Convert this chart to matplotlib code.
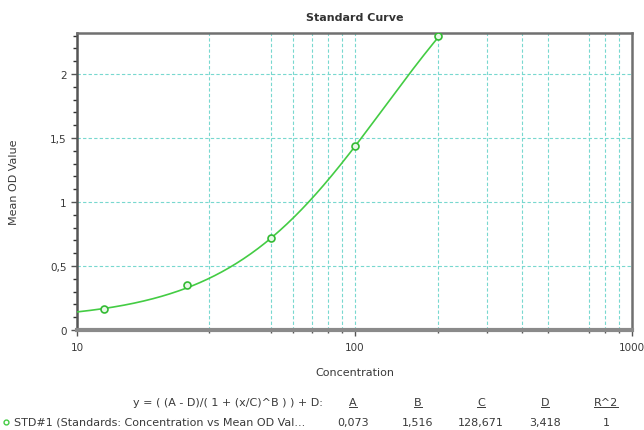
import numpy as np
import matplotlib
matplotlib.use("Agg")
import matplotlib.pyplot as plt
from matplotlib.lines import Line2D

plt.rcParams['font.family'] = ['DejaVu Sans']

# ---- data ----
concentration = [12.5, 25, 50, 100, 200]
mean_od = [0.165, 0.35, 0.72, 1.44, 2.30]
fit_A, fit_B, fit_C, fit_D = 0.073, 1.516, 128.671, 3.418
param_names = ['A', 'B', 'C', 'D', 'R^2']
param_values = ['0,073', '1,516', '128,671', '3,418', '1']
series_label = 'STD#1 (Standards: Concentration vs Mean OD Val...'
formula_text = 'y = ( (A - D)/( 1 + (x/C)^B ) ) + D:'
x_major = [10, 100, 1000]
x_major_labels = ['10', '100', '1000']
x_grid_minor = [30, 50, 60, 70, 80, 90, 200, 300, 400, 500, 700, 800, 900]
y_major = [0, 0.5, 1, 1.5, 2]
y_major_labels = ['0', '0,5', '1', '1,5', '2']

W, H = 644, 431
fig = plt.figure(figsize=(W / 100, H / 100), dpi=100)
L, R, T, B = 77, 632, 34, 331
ax = fig.add_axes([L / W, 1 - B / H, (R - L) / W, (B - T) / H])

txt = '#3a3a3a'
grid_c = '#78d8cf'
green = '#44cc44'

# fitted 4PL curve from the displayed parameters
xc = np.logspace(1, np.log10(max(concentration)), 300)
yc = (fit_A - fit_D) / (1 + (xc / fit_C) ** fit_B) + fit_D
ax.plot(xc, yc, color=green, lw=1.2, zorder=3)
ax.plot(concentration, mean_od, linestyle='none', marker='o', ms=5,
        mfc='#e8f8e8', mec='#33bb33', mew=1.2, zorder=4)

ax.set_xscale('log')
ax.set_xlim(10, 1000)
ax.set_ylim(0, 2.32)

ax.set_xticks(x_major)
ax.set_xticklabels(x_major_labels)
ax.set_xticks(x_grid_minor, minor=True)
ax.set_xticklabels([], minor=True)
ax.set_yticks(y_major)
ax.set_yticklabels(y_major_labels)
ax.set_yticks(np.arange(0.1, 2.31, 0.1), minor=True)

ax.grid(True, which='both', axis='x', color=grid_c, linestyle=(0, (3, 2)), lw=0.8)
ax.grid(True, which='major', axis='y', color=grid_c, linestyle=(0, (3, 2)), lw=0.8)
ax.set_axisbelow(True)

ax.tick_params(axis='both', which='major', labelsize=7.5, colors='#555555',
               labelcolor=txt, length=4, width=1)
ax.tick_params(axis='y', which='minor', length=3, width=1, colors='#333333')
ax.tick_params(axis='x', which='minor', length=2, width=1, colors='#555555')
ax.tick_params(axis='x', which='major', pad=5)

for s in ['top', 'right']:
    ax.spines[s].set_color('#707070')
    ax.spines[s].set_linewidth(1.8)
ax.spines['left'].set_color('#555555')
ax.spines['left'].set_linewidth(1.8)
ax.spines['bottom'].set_color('#8a8a8a')
ax.spines['bottom'].set_linewidth(3)

def px(x, y):
    return x / W, 1 - y / H

fig.text(*px((L + R) / 2, 18), 'Standard Curve', ha='center', va='center',
         fontsize=8, fontweight='bold', color='#333333')
fig.text(*px(14, (T + B) / 2), 'Mean OD Value', ha='center', va='center',
         rotation=90, fontsize=8, color=txt)
fig.text(*px((L + R) / 2, 373), 'Concentration', ha='center', va='center',
         fontsize=8, color=txt)

# fit table
row1, row2 = 403, 423
fig.text(*px(323, row1), formula_text, ha='right', va='center', fontsize=8, color=txt)
col_x = [353, 418, 481, 545, 606]
headers = []
for cx, name, val in zip(col_x, param_names, param_values):
    headers.append(fig.text(*px(cx, row1), name, ha='center', va='center',
                            fontsize=8, color=txt))
    fig.text(*px(cx, row2), val, ha='center', va='center', fontsize=8, color=txt)

fig.add_artist(Line2D([6 / W], [1 - row2 / H], transform=fig.transFigure,
                      marker='o', ms=3.5, mfc='white', mec=green, mew=1, linestyle='none'))
fig.text(*px(14, row2), series_label, ha='left', va='center', fontsize=8, color=txt)

# underline the parameter headers
fig.canvas.draw()
renderer = fig.canvas.get_renderer()
for t in headers:
    bb = t.get_window_extent(renderer)
    yline = bb.y0 + 0.5
    fig.add_artist(Line2D([bb.x0 / W, bb.x1 / W], [yline / H, yline / H],
                          transform=fig.transFigure, color=txt, lw=0.7))

fig.savefig('out.png', dpi=100)
